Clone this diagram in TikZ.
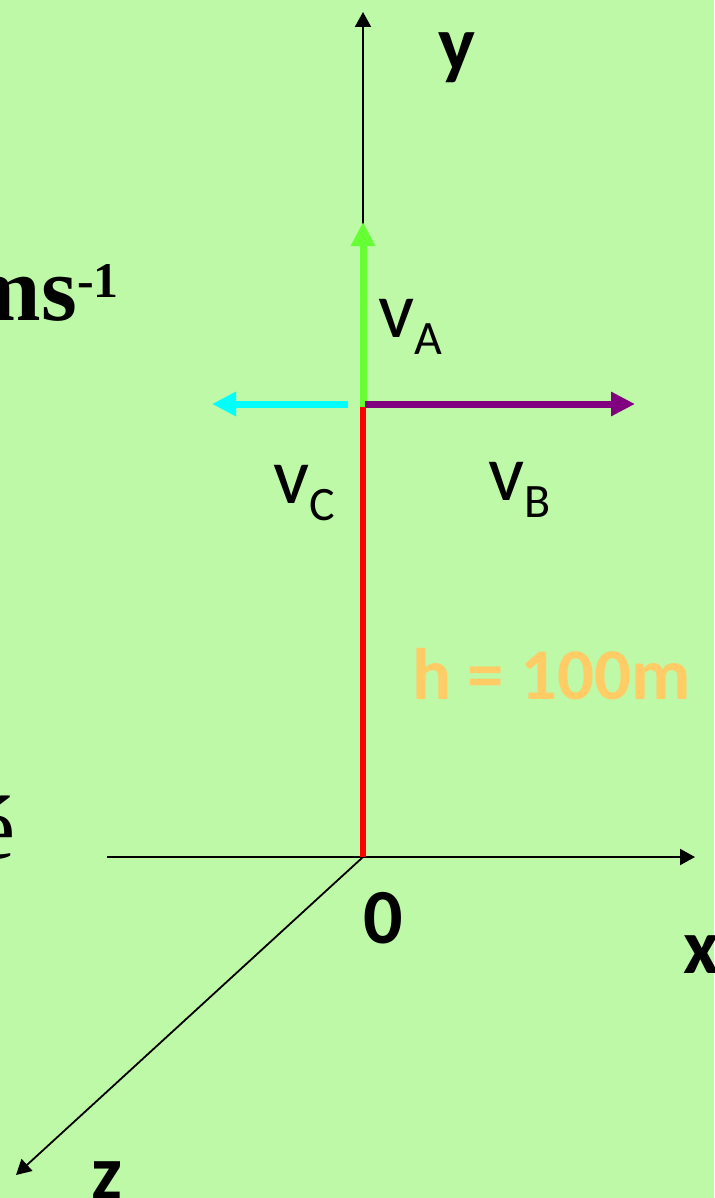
\documentclass[tikz,border=0pt]{standalone}
\usepackage{fontspec}
\usetikzlibrary{arrows.meta}
\newfontfamily\calfont{Carlito}
\newfontfamily\tmsfont{Liberation Serif}
\definecolor{bg}{RGB}{190,249,168}
\definecolor{vagreen}{RGB}{102,255,51}
\definecolor{vccyan}{RGB}{0,255,255}
\definecolor{vbpurple}{RGB}{128,0,128}
\definecolor{hcol}{RGB}{255,204,102}
\newcommand{\vsub}[1]{v\raisebox{-17pt}{\fontsize{48}{48}\selectfont #1}}
\tikzset{
  axis/.style={draw=black, line width=2pt, -{Triangle[length=15pt,width=16pt]}},
  vec/.style={line width=7pt, line cap=butt, -{Triangle[length=24pt,width=23pt]}},
  axlbl/.style={inner sep=0pt, font={\calfont\bfseries\fontsize{78}{78}\selectfont}},
  vlbl/.style={inner sep=0pt, font={\calfont\fontsize{80}{80}\selectfont}},
  tmslbl/.style={inner sep=0pt, font={\tmsfont\fontsize{90}{90}\selectfont}}
}
\begin{document}
\begin{tikzpicture}[x=1pt,y=-1pt]
\fill[bg] (0,0) rectangle (714,1198);
\useasboundingbox (0,0) rectangle (714,1198);
% coordinates
\coordinate (O) at (363,857);
\coordinate (ytip) at (363,12);
\coordinate (xstart) at (107,857);
\coordinate (xtip) at (695,857);
\coordinate (ztip) at (16,1175);
\coordinate (P) at (363,404);
\coordinate (Ptop) at (363,407);
\coordinate (Atip) at (363,222);
\coordinate (Ctail) at (348,404);
\coordinate (Ctip) at (212,404);
\coordinate (Btail) at (365,404);
\coordinate (Btip) at (635,404);
% axes
\draw[axis] (O) -- (ytip);
\draw[axis] (xstart) -- (xtip);
\draw[axis, line width=1.8pt] (O) -- (ztip);
% vectors
\draw[red, line width=6pt] (P) -- (O);
\draw[vec, vagreen] (Ptop) -- (Atip);
\draw[vec, vccyan] (Ctail) -- (Ctip);
\draw[vec, vbpurple] (Btail) -- (Btip);
% labels
\node[axlbl, anchor=base] (ylab) at (457,71) {y};
\node[axlbl, anchor=base] (olab) at (383,943) {0};
\node[axlbl, anchor=base] (xlab) at (701,973) {x};
\node[axlbl, anchor=base] (zlab) at (107,1199) {z};
\node[axlbl, anchor=base west, text=hcol, font={\calfont\bfseries\fontsize{73}{73}\selectfont}] (hlab) at (412,699) {h = 100m};
\node[vlbl, anchor=base west] (valab) at (378,337) {\vsub{A}};
\node[vlbl, anchor=base west] (vclab) at (273,503) {\vsub{C}};
\node[vlbl, anchor=base west] (vblab) at (488,500) {\vsub{B}};
\node[tmslbl, anchor=base east, font={\tmsfont\bfseries\fontsize{92}{92}\selectfont}] (ms) at (119,320) {ms\raisebox{23pt}{\fontsize{50}{50}\selectfont -1}};
\node[tmslbl, anchor=base east] (eacute) at (16,858) {é};
\end{tikzpicture}
\end{document}
